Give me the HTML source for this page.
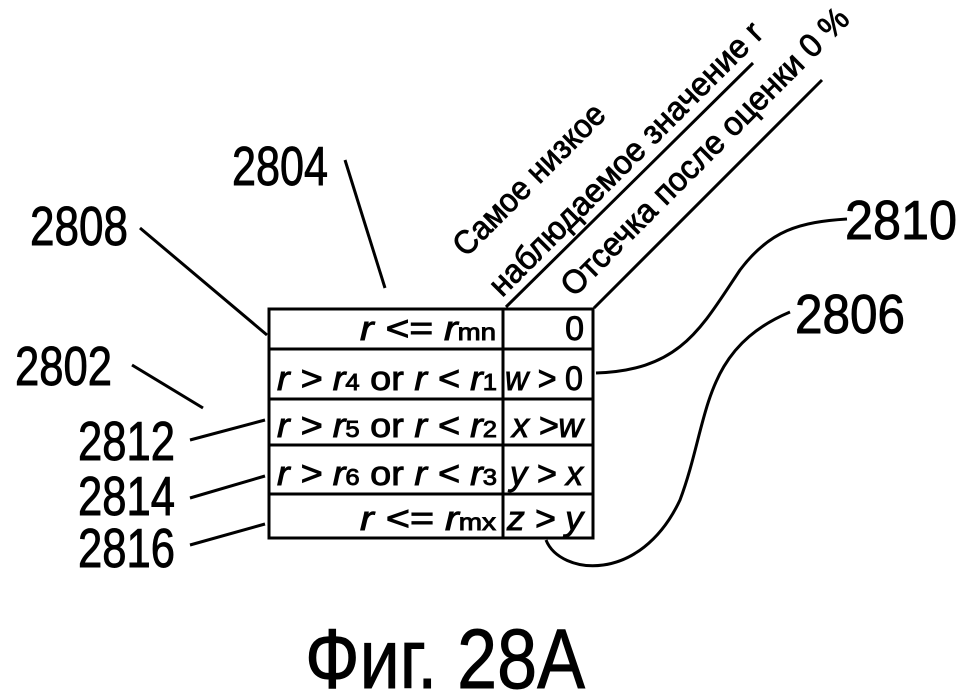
<!DOCTYPE html>
<html><head><meta charset="utf-8"><style>
html,body{margin:0;padding:0;background:#fff;}
svg{display:block;}
text{font-family:"Liberation Sans",sans-serif;fill:#000;stroke:#000;stroke-width:0.9;}
</style></head><body>
<svg width="969" height="695" viewBox="0 0 969 695" xmlns="http://www.w3.org/2000/svg">
<g fill="none" stroke="#000" stroke-width="3">
<rect x="269" y="309" width="324" height="229"/>
<line x1="503" y1="309" x2="503" y2="538"/>
<line x1="269" y1="349" x2="593" y2="349"/>
<line x1="269" y1="399" x2="593" y2="399"/>
<line x1="269" y1="445" x2="593" y2="445"/>
<line x1="269" y1="494" x2="593" y2="494"/>
<line x1="506" y1="307" x2="753" y2="63"/>
<line x1="594" y1="308" x2="822" y2="80"/>
<line x1="345" y1="160" x2="385" y2="288"/>
<line x1="140" y1="228" x2="267" y2="335"/>
<line x1="132" y1="365" x2="203" y2="408"/>
<line x1="190" y1="440" x2="265" y2="420"/>
<line x1="190" y1="498" x2="265" y2="476"/>
<line x1="190" y1="545" x2="265" y2="524"/>
<path d="M596,373 C680,370 700,330 740,270 C770,230 800,222 847,219"/>
<path d="M546,540 C560,575 640,585 680,500 C710,420 700,350 790,312"/>
</g>
<g font-size="34" font-style="italic" lengthAdjust="spacingAndGlyphs">
<text x="360" y="340" textLength="136" lengthAdjust="spacingAndGlyphs">r &lt;= r<tspan font-size="23" font-style="normal">mn</tspan></text>
<text x="277" y="390" textLength="220" lengthAdjust="spacingAndGlyphs">r &gt; r<tspan font-size="23" font-style="normal">4</tspan><tspan font-style="normal"> or </tspan>r &lt; r<tspan font-size="23" font-style="normal">1</tspan></text>
<text x="277" y="437" textLength="220" lengthAdjust="spacingAndGlyphs">r &gt; r<tspan font-size="23" font-style="normal">5</tspan><tspan font-style="normal"> or </tspan>r &lt; r<tspan font-size="23" font-style="normal">2</tspan></text>
<text x="277" y="485" textLength="220" lengthAdjust="spacingAndGlyphs">r &gt; r<tspan font-size="23" font-style="normal">6</tspan><tspan font-style="normal"> or </tspan>r &lt; r<tspan font-size="23" font-style="normal">3</tspan></text>
<text x="360" y="530" textLength="136" lengthAdjust="spacingAndGlyphs">r &lt;= r<tspan font-size="23" font-style="normal">mx</tspan></text>
<text x="584" y="340" text-anchor="end" font-style="normal">0</text>
<text x="505" y="390" textLength="78" lengthAdjust="spacingAndGlyphs">w &gt; <tspan font-style="normal">0</tspan></text>
<text x="512" y="437" textLength="71" lengthAdjust="spacingAndGlyphs">x &gt;w</text>
<text x="510" y="485" textLength="73" lengthAdjust="spacingAndGlyphs">y &gt; x</text>
<text x="507" y="530" textLength="76" lengthAdjust="spacingAndGlyphs">z &gt; y</text>
</g>
<g font-size="33">
<text transform="translate(466,258) rotate(-45)" textLength="200" lengthAdjust="spacingAndGlyphs">Самое низкое</text>
<text transform="translate(502,298) rotate(-45)" textLength="372" lengthAdjust="spacingAndGlyphs">наблюдаемое значение r</text>
<text transform="translate(574,298) rotate(-45)" textLength="392" lengthAdjust="spacingAndGlyphs">Отсечка после оценки 0 %</text>
</g>
<g font-size="55">
<text x="232" y="185" textLength="96" lengthAdjust="spacingAndGlyphs">2804</text>
<text x="30" y="245" textLength="98" lengthAdjust="spacingAndGlyphs">2808</text>
<text x="15" y="385" textLength="97" lengthAdjust="spacingAndGlyphs">2802</text>
<text x="78" y="460" textLength="97" lengthAdjust="spacingAndGlyphs">2812</text>
<text x="78" y="515" textLength="97" lengthAdjust="spacingAndGlyphs">2814</text>
<text x="78" y="567" textLength="97" lengthAdjust="spacingAndGlyphs">2816</text>
<text x="845" y="239" textLength="112" lengthAdjust="spacingAndGlyphs">2810</text>
<text x="795" y="333" textLength="110" lengthAdjust="spacingAndGlyphs">2806</text>
</g>
<text x="305" y="688" font-size="84" textLength="280" lengthAdjust="spacingAndGlyphs">Фиг. 28А</text>
</svg>
</body></html>
